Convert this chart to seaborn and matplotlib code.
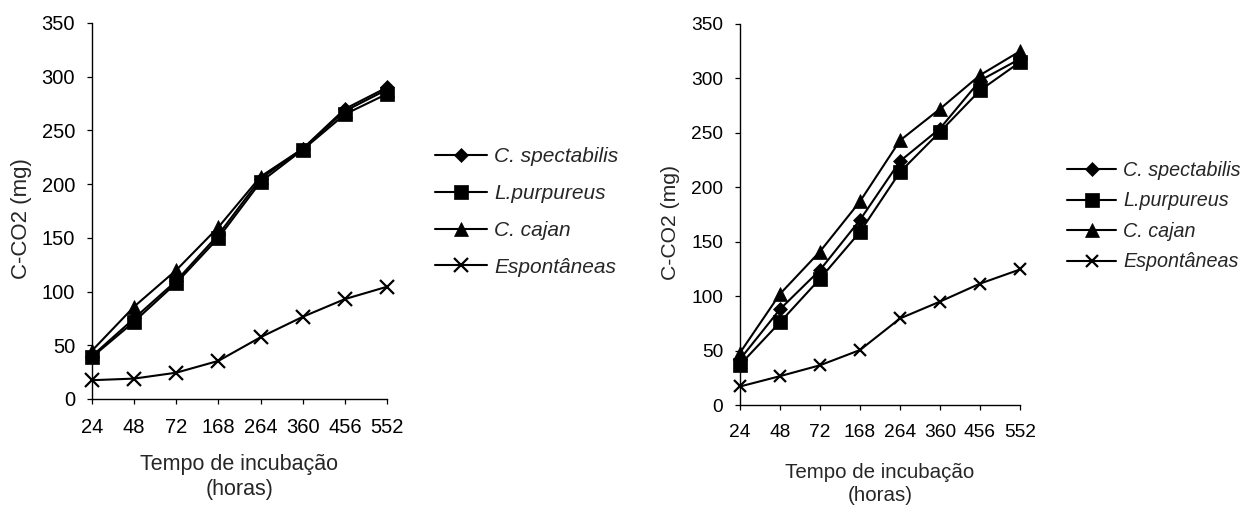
import matplotlib
matplotlib.use("Agg")
import matplotlib.pyplot as plt
import seaborn as sns
import pandas as pd

# ---- data ----
tempo = ["24", "48", "72", "168", "264", "360", "456", "552"]
especies = ["C. spectabilis", "L.purpureus", "C. cajan", "Espontâneas"]

esq_spectabilis = [40, 75, 110, 153, 205, 233, 270, 290]
esq_purpureus = [39, 72, 108, 150, 202, 232, 265, 284]
esq_cajan = [45, 86, 120, 160, 207, 233, 268, 288]
esq_espontaneas = [17.5, 19, 24.5, 35.5, 57.5, 76.5, 93, 104.5]

dir_spectabilis = [42, 88, 124, 170, 224, 254, 298, 318]
dir_purpureus = [37, 76, 116, 159, 214, 251, 289, 315]
dir_cajan = [48, 102, 141, 187, 243, 272, 303, 325]
dir_espontaneas = [17, 26.5, 36.5, 50.5, 79.5, 95, 111.5, 124.5]

y_ticks = [0, 50, 100, 150, 200, 250, 300, 350]
y_label = "C-CO2 (mg)"
x_label = "Tempo de incubação\n(horas)"

marcadores = {"C. spectabilis": ("D", 7.5), "L.purpureus": ("s", 10),
              "C. cajan": ("^", 10.5), "Espontâneas": ("x", 9.5)}

sns.set_style("ticks")
plt.rcParams["font.family"] = ["Liberation Sans", "DejaVu Sans"]

fig = plt.figure(figsize=(12.46, 5.08), dpi=100)
W, H = 1246, 508

def make_axes(l, r, b, t):
    return fig.add_axes([l / W, 1 - b / H, (r - l) / W, (b - t) / H])

ax1 = make_axes(92, 387, 399, 23)
ax2 = make_axes(740, 1020, 405, 24)

panels = [
    (ax1, [esq_spectabilis, esq_purpureus, esq_cajan, esq_espontaneas], 1.0),
    (ax2, [dir_spectabilis, dir_purpureus, dir_cajan, dir_espontaneas], 0.95),
]

for ax, series, sc in panels:
    for name, vals in zip(especies, series):
        m, ms = marcadores[name]
        df = pd.DataFrame({"tempo": tempo, "co2": vals})
        sns.lineplot(data=df, x="tempo", y="co2", ax=ax, color="black",
                     marker=m, markersize=ms * sc, markeredgecolor="black",
                     markerfacecolor="black",
                     markeredgewidth=1.6 if m == "x" else 0.5,
                     linewidth=1.5, sort=False, label=name, clip_on=False,
                     zorder=3)
    ax.set_xlim(0, len(tempo) - 1)
    ax.set_ylim(0, 350)
    ax.set_yticks(y_ticks)
    sns.despine(ax=ax)
    for s in ["left", "bottom"]:
        ax.spines[s].set_color("black")
        ax.spines[s].set_linewidth(1.0)
    ax.tick_params(axis="both", colors="black", length=3.6, width=0.9,
                   labelsize=14.5 * sc)
    ax.tick_params(axis="x", pad=10)
    ax.tick_params(axis="y", pad=8.5)
    ax.set_xlabel(x_label, fontsize=15.5 * sc, linespacing=1.25)
    ax.set_ylabel(y_label, fontsize=16 * sc)
    ax.get_legend().remove()

ax1.yaxis.set_label_coords(-0.205, 0.48)
ax2.yaxis.set_label_coords(-0.215, 0.48)
ax1.xaxis.set_label_coords(0.5, -0.145)
ax2.xaxis.set_label_coords(0.5, -0.152)

for ax, x0, y0, sc, sp in [(ax1, 435, 147, 1.0, 0.86), (ax2, 1067, 161, 0.95, 0.58)]:
    h, l = ax.get_legend_handles_labels()
    fig.legend(h, l, loc="upper left", bbox_to_anchor=(x0 / W, 1 - y0 / H),
               frameon=False, borderpad=0, borderaxespad=0,
               prop={"style": "italic", "size": 15 * sc},
               handlelength=2.5, handletextpad=0.35, labelspacing=sp)

fig.savefig("out.png", dpi=100, facecolor="white")
